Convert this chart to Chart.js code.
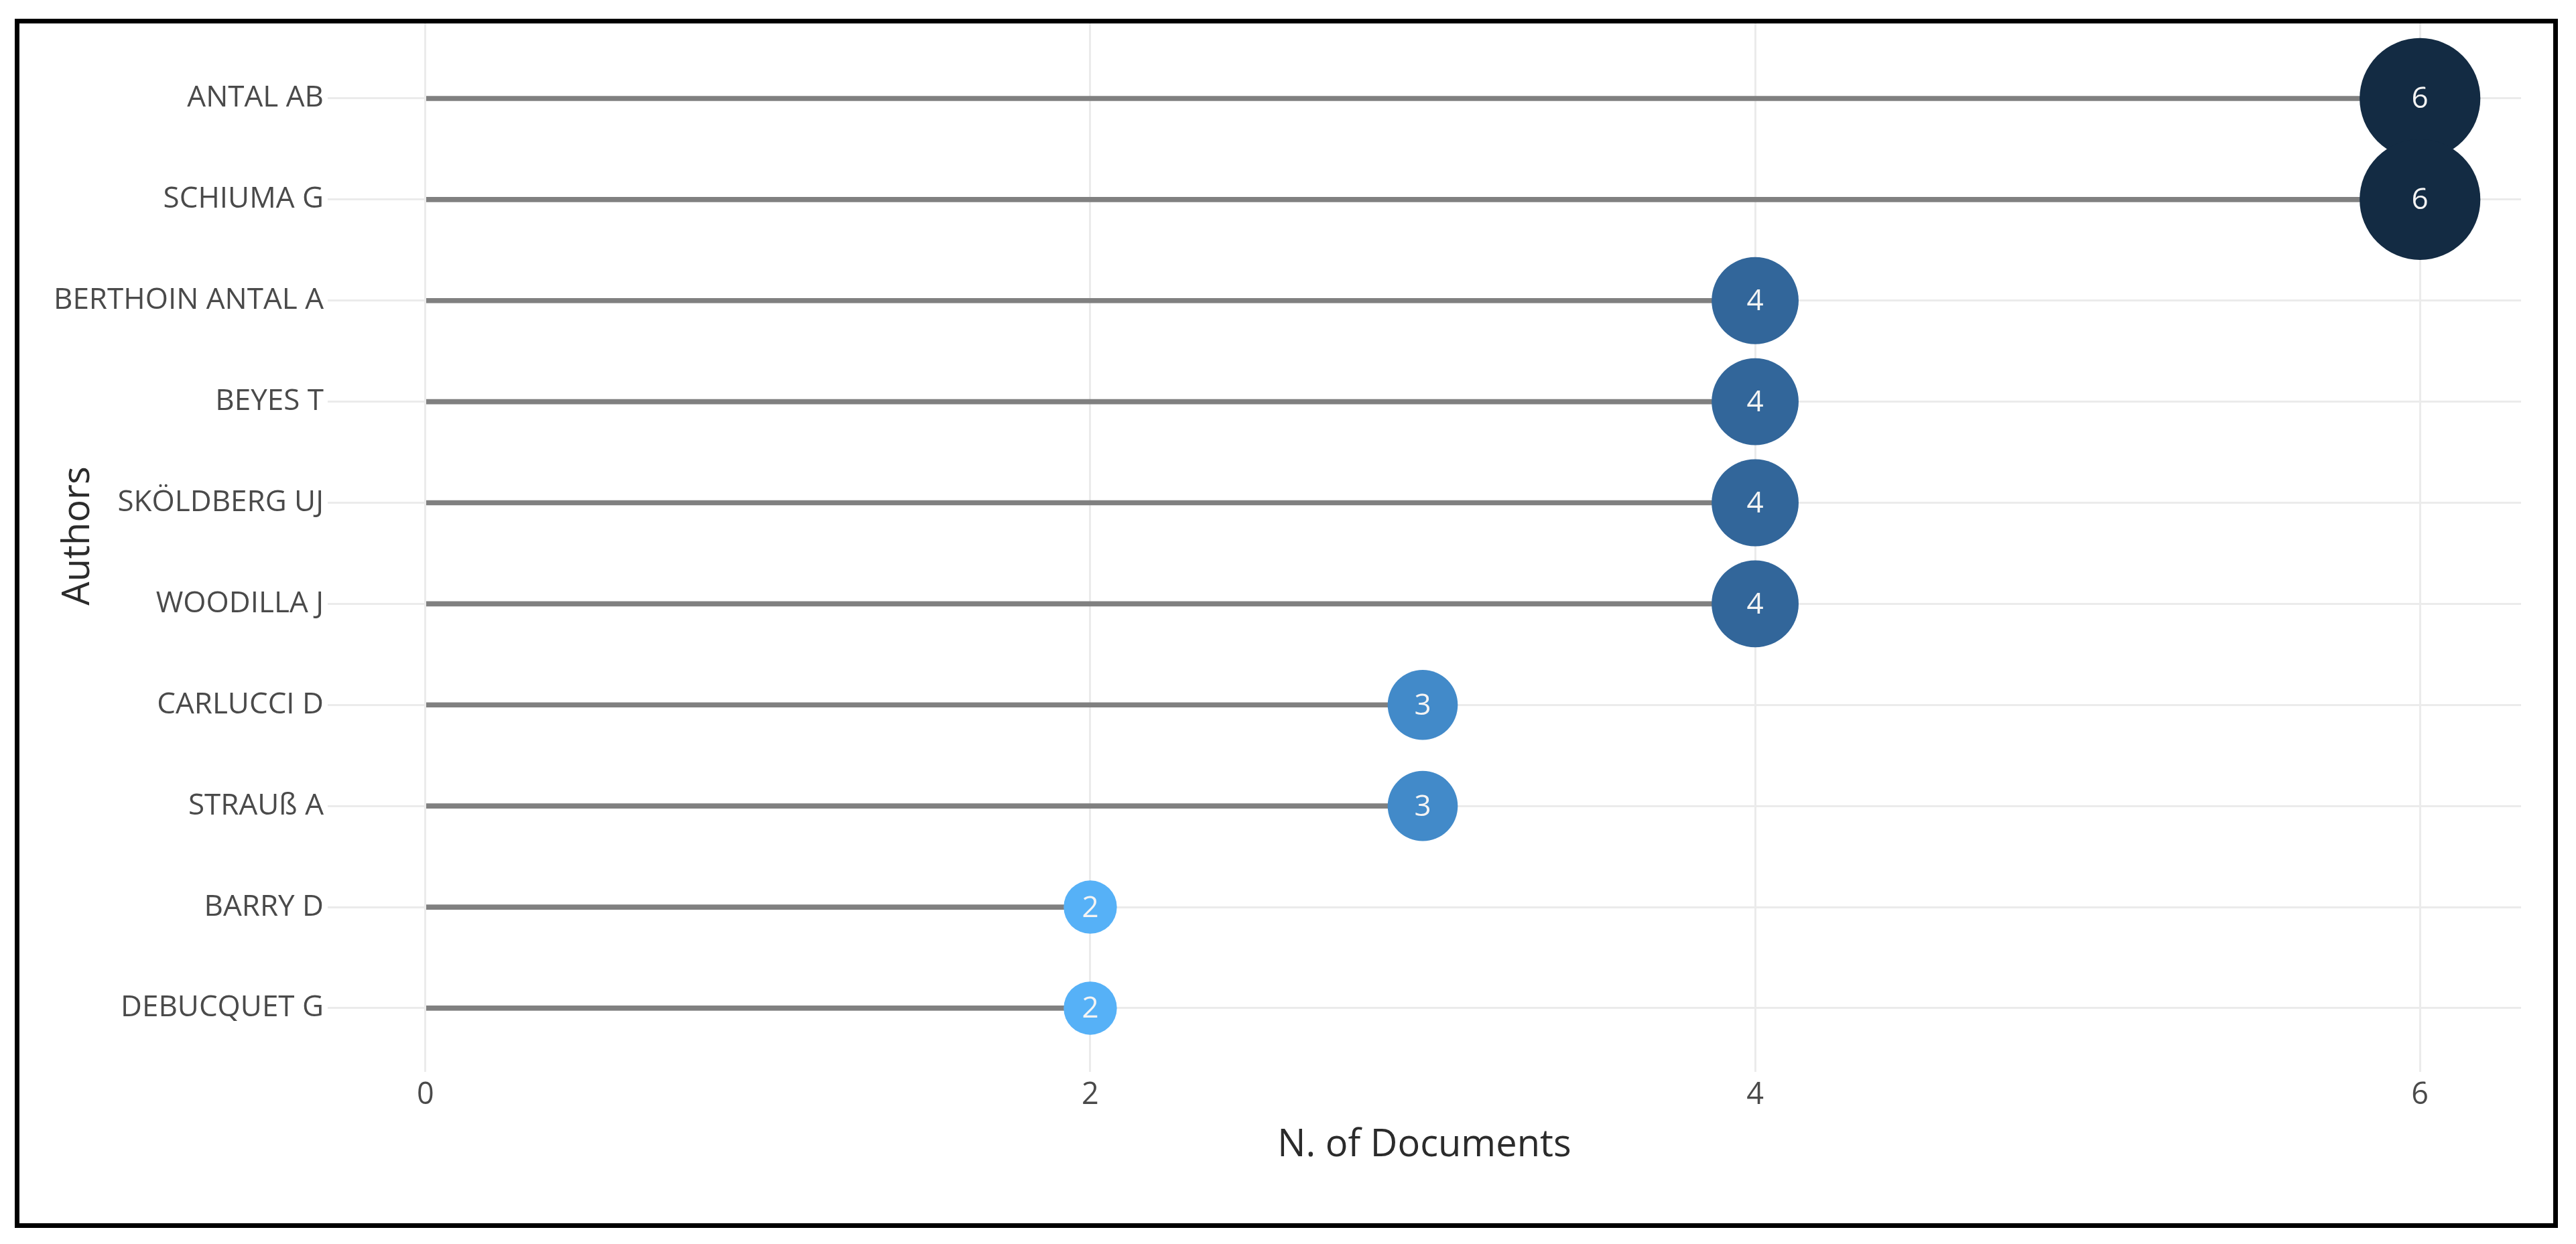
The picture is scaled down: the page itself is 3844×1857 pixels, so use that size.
<!DOCTYPE html>
<html><head><meta charset="utf-8">
<script src="https://cdn.jsdelivr.net/npm/chart.js@4/dist/chart.umd.min.js"></script>
<style>
html,body{margin:0;padding:0;background:#fff;overflow:hidden;}
#wrap{position:relative;width:3844px;height:1857px;overflow:hidden;background:#fff;}
#frame{position:absolute;left:22px;top:28px;width:3795px;height:1805px;box-sizing:border-box;border:7px solid #000;box-shadow:0 0 0 400px #fff;pointer-events:none;}
</style></head><body>
<div id="wrap"><canvas id="c" width="3844" height="1857"></canvas><div id="frame"></div></div>
<script>
// ---- data ----
const authors = ["ANTAL AB","SCHIUMA G","BERTHOIN ANTAL A","BEYES T","SKÖLDBERG UJ","WOODILLA J","CARLUCCI D","STRAUß A","BARRY D","DEBUCQUET G"];
const documents = [6,6,4,4,4,4,3,3,2,2];
const xTicks = [0,2,4,6];
const xTitle = "N. of Documents";
const yTitle = "Authors";

// ---- styles ----
const colorByValue = {2:'#56B1F7',3:'#428AC9',4:'#32669A',6:'#132B43'};
const radiusFor = v => 14.5 + 12.6 * v;
const FONT = "'Open Sans', 'Noto Sans', sans-serif";

const pointLabels = {
  id: 'pointLabels',
  afterDatasetsDraw(chart) {
    const meta = chart.getDatasetMeta(1);
    const ctx = chart.ctx;
    ctx.save();
    ctx.font = "44px " + FONT;
    ctx.fillStyle = '#f4f4f4';
    ctx.textAlign = 'center';
    ctx.textBaseline = 'middle';
    meta.data.forEach((pt, i) => {
      ctx.fillText(String(documents[i]), pt.x, pt.y + 2);
    });
    ctx.restore();
  }
};

new Chart(document.getElementById('c'), {
  type: 'bar',
  data: {
    datasets: [
      {
        type: 'bar',
        data: documents.map((v, i) => ({x: v, y: i})),
        backgroundColor: '#808080',
        borderWidth: 0,
        barThickness: 7,
        order: 2
      },
      {
        type: 'scatter',
        data: documents.map((v, i) => ({x: v, y: i})),
        pointRadius: ctx => radiusFor(documents[ctx.dataIndex]),
        pointHoverRadius: ctx => radiusFor(documents[ctx.dataIndex]),
        pointBackgroundColor: ctx => colorByValue[documents[ctx.dataIndex]],
        pointBorderWidth: 0,
        clip: false,
        order: 1
      }
    ]
  },
  options: {
    indexAxis: 'y',
    responsive: false,
    animation: false,
    devicePixelRatio: 1,
    events: [],
    layout: {autoPadding: false, padding: {left: 0, top: 0, right: 82, bottom: 0}},
    plugins: {legend: {display: false}, tooltip: {enabled: false}},
    scales: {
      x: {
        type: 'linear',
        offset: false,
        min: -0.294,
        max: 6.304,
        afterBuildTicks: s => { s.ticks = xTicks.map(v => ({value: v})); },
        afterFit: s => { s.height = 257; s.paddingLeft = 0; s.paddingRight = 0; },
        grid: {color: '#ebebeb', lineWidth: 3, drawTicks: false, offset: false},
        border: {display: false},
        ticks: {color: '#4a4a4a', font: {family: FONT, size: 45}, padding: 8},
        title: {display: true, text: xTitle, color: '#2b2b2b', font: {family: FONT, size: 56}, padding: {top: 0, bottom: 113}}
      },
      y: {
        type: 'linear',
        offset: false,
        reverse: true,
        min: -0.974,
        max: 9.63,
        afterBuildTicks: s => { s.ticks = authors.map((a, i) => ({value: i})); },
        afterFit: s => { s.width = 489; s.paddingTop = 0; s.paddingBottom = 0; },
        grid: {color: '#ebebeb', lineWidth: 3, drawTicks: false, offset: false},
        border: {display: false},
        ticks: {color: '#4a4a4a', font: {family: FONT, size: 44}, padding: 6,
          callback: v => authors[v] !== undefined ? authors[v] : ''},
        title: {display: true, text: yTitle, color: '#2b2b2b', font: {family: FONT, size: 56}, padding: {top: 83, bottom: 0}}
      }
    }
  },
  plugins: [pointLabels]
});
</script>
</body></html>
